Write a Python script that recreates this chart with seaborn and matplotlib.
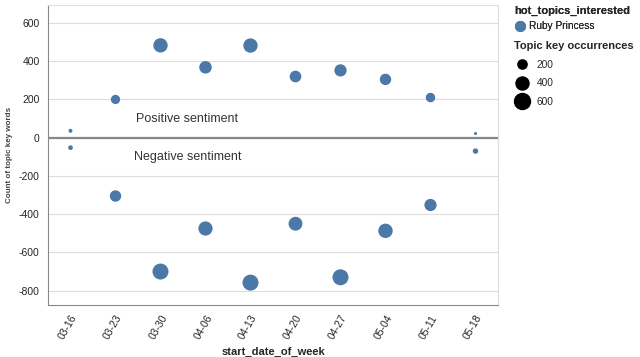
import numpy as np
import pandas as pd
import matplotlib
matplotlib.use('Agg')
import matplotlib.pyplot as plt
import seaborn as sns
from matplotlib.lines import Line2D

weeks = ['03-16', '03-23', '03-30', '04-06', '04-13', '04-20', '04-27', '05-04', '05-11', '05-18']
positive = [36, 200, 483, 368, 482, 320, 352, 305, 210, 22]
negative = [-52, -305, -700, -475, -758, -450, -730, -487, -352, -70]
topic = 'Ruby Princess'
size_legend = [200, 400, 600]
yticks = [-800, -600, -400, -200, 0, 200, 400, 600]

blue = '#4c78a8'
# scatter area (pt^2) per occurrence
area_per_unit = 0.221

frame = pd.DataFrame({
    'week': weeks + weeks,
    'pos': list(range(len(weeks))) * 2,
    'count': positive + negative,
})
frame['occ'] = frame['count'].abs()
frame['topic'] = topic

sns.set_style('white')
plt.rcParams['font.family'] = ['Liberation Sans', 'DejaVu Sans']

fig = plt.figure(figsize=(6.4, 3.57), dpi=100)
ax = fig.add_axes([48 / 640, 52 / 357, 450 / 640, 300 / 357])

ax.axhline(0, color='#888888', lw=1.6, zorder=1)
sns.scatterplot(data=frame, x='pos', y='count', size='occ', hue='topic',
                palette=[blue], sizes=(0, 600 * area_per_unit), size_norm=(0, 600),
                linewidth=0, alpha=1, legend=False, ax=ax, zorder=3)

ax.text(2.6, 100, 'Positive sentiment', ha='center', va='center', fontsize=9, color='#333333')
ax.text(2.6, -100, 'Negative sentiment', ha='center', va='center', fontsize=9, color='#333333')

ax.set_xlim(-0.5, len(weeks) - 0.5)
ax.set_ylim(-875, 694)
ax.set_xticks(range(len(weeks)))
ax.set_xticklabels(weeks, rotation=60, ha='right', rotation_mode='anchor', fontsize=7.5)
ax.set_yticks(yticks)
ax.set_yticklabels([str(t) for t in yticks], fontsize=7.5)
ax.grid(axis='y', color='#dddddd', lw=0.8)
ax.set_axisbelow(True)
ax.tick_params(axis='both', length=4, width=0.8, color='#888888', pad=2)
for side in ['top', 'right']:
    ax.spines[side].set_color('#dddddd')
    ax.spines[side].set_linewidth(0.8)
for side in ['left', 'bottom']:
    ax.spines[side].set_color('#888888')
    ax.spines[side].set_linewidth(0.8)

ax.set_xlabel('start_date_of_week', fontsize=8, fontweight='bold', labelpad=4)
ax.set_ylabel('Count of topic key words', fontsize=5.8, fontweight='bold', labelpad=4,
              color='#444444')

h1 = [Line2D([], [], marker='o', ls='', color=blue, markersize=7, label=topic)]
leg1 = fig.legend(handles=h1, loc='upper left', bbox_to_anchor=(508 / 640, 1.0),
                  frameon=False, title='hot_topics_interested', alignment='left',
                  fontsize=7.3, title_fontproperties={'weight': 'bold', 'size': 8},
                  handletextpad=0.3, borderaxespad=0.2, handlelength=1.2)
h2 = [Line2D([], [], marker='o', ls='', color='black',
             markersize=np.sqrt(v * area_per_unit), label=str(v)) for v in size_legend]
leg2 = fig.legend(handles=h2, loc='upper left', bbox_to_anchor=(508 / 640, 0.902),
                  frameon=False, title='Topic key occurrences', alignment='left',
                  fontsize=7.3, title_fontproperties={'weight': 'bold', 'size': 8},
                  handletextpad=0.6, borderaxespad=0.2, handlelength=1.6, labelspacing=0.85)
fig.add_artist(leg1)

fig.savefig('out.png', dpi=100)
